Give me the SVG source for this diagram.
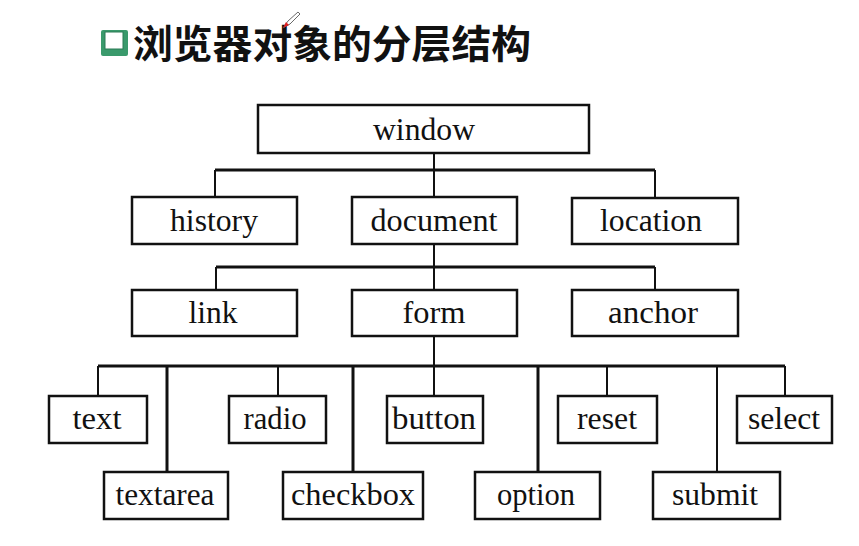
<svg xmlns="http://www.w3.org/2000/svg" width="859" height="546" viewBox="0 0 859 546">
<style>
.box{fill:#fff;stroke:#111;stroke-width:2.5}
.lbl{font-family:"Liberation Serif","Times New Roman",serif;font-size:32px;fill:#111;text-anchor:middle}
.ln{stroke:#111;stroke-width:2;fill:none}
.hl{stroke:#111;stroke-width:3;fill:none}
.title{font-family:"Noto Sans CJK SC","Noto Sans",sans-serif;font-size:39px;font-weight:bold;fill:#111}
</style>
<rect width="859" height="546" fill="#fff"/>
<g id="title">
<rect x="101" y="30" width="27" height="26" rx="2" fill="#3a9a6c"/>
<rect x="105" y="32" width="18" height="17" fill="#fff" stroke="#2a7a54" stroke-width="1"/>
<text class="title" x="133" y="58" textLength="398" lengthAdjust="spacingAndGlyphs">浏览器对象的分层结构</text>
<polygon points="283,28 288,21 298,12 300,14 290,24" fill="#fff" stroke="#444" stroke-width="0.8"/>
<polygon points="283,28 286,22 289,25" fill="#e02020"/>
</g>
<g id="connectors">
<path class="ln" d="M434,153 V198"/>
<path class="hl" d="M215,170 H655"/>
<path class="ln" d="M215,170 V197 M655,170 V198"/>
<path class="ln" d="M434,244 V290"/>
<path class="hl" d="M216,267 H655"/>
<path class="ln" d="M216,267 V290 M655,267 V290"/>
<path class="ln" d="M434,336 V396"/>
<path class="hl" d="M98,366 H785"/>
<path class="ln" d="M98,366 V396 M278,366 V396 M607,366 V396 M785,366 V396"/>
<path class="hl" d="M167,366 V472 M353,366 V472 M538,366 V472"/>
<path class="ln" d="M717,366 V472"/>
</g>
<g id="window"><rect class="box" x="258" y="105" width="331" height="48"/><text class="lbl" x="424" y="140" textLength="102" lengthAdjust="spacingAndGlyphs">window</text></g>
<g id="history"><rect class="box" x="132" y="197" width="165" height="47"/><text class="lbl" x="214" y="231" textLength="88" lengthAdjust="spacingAndGlyphs">history</text></g>
<g id="document"><rect class="box" x="352" y="197" width="165" height="47"/><text class="lbl" x="434" y="231" textLength="127" lengthAdjust="spacingAndGlyphs">document</text></g>
<g id="location"><rect class="box" x="572" y="198" width="166" height="46"/><text class="lbl" x="651" y="231" textLength="102" lengthAdjust="spacingAndGlyphs">location</text></g>
<g id="link"><rect class="box" x="132" y="290" width="165" height="46"/><text class="lbl" x="213" y="323" textLength="49" lengthAdjust="spacingAndGlyphs">link</text></g>
<g id="form"><rect class="box" x="352" y="290" width="165" height="46"/><text class="lbl" x="434" y="323" textLength="63" lengthAdjust="spacingAndGlyphs">form</text></g>
<g id="anchor"><rect class="box" x="572" y="290" width="166" height="46"/><text class="lbl" x="653" y="323" textLength="90" lengthAdjust="spacingAndGlyphs">anchor</text></g>
<g id="text"><rect class="box" x="49" y="396" width="98" height="47"/><text class="lbl" x="97" y="429" textLength="49" lengthAdjust="spacingAndGlyphs">text</text></g>
<g id="radio"><rect class="box" x="229" y="396" width="97" height="47"/><text class="lbl" x="275" y="429" textLength="63" lengthAdjust="spacingAndGlyphs">radio</text></g>
<g id="button"><rect class="box" x="387" y="396" width="96" height="47"/><text class="lbl" x="434" y="429" textLength="84" lengthAdjust="spacingAndGlyphs">button</text></g>
<g id="reset"><rect class="box" x="558" y="396" width="99" height="47"/><text class="lbl" x="607" y="429" textLength="60" lengthAdjust="spacingAndGlyphs">reset</text></g>
<g id="select"><rect class="box" x="737" y="396" width="95" height="47"/><text class="lbl" x="784" y="429" textLength="72" lengthAdjust="spacingAndGlyphs">select</text></g>
<g id="textarea"><rect class="box" x="104" y="472" width="124" height="47"/><text class="lbl" x="165" y="505" textLength="99" lengthAdjust="spacingAndGlyphs">textarea</text></g>
<g id="checkbox"><rect class="box" x="283" y="472" width="140" height="47"/><text class="lbl" x="353" y="505" textLength="124" lengthAdjust="spacingAndGlyphs">checkbox</text></g>
<g id="option"><rect class="box" x="475" y="472" width="125" height="47"/><text class="lbl" x="536" y="505" textLength="78" lengthAdjust="spacingAndGlyphs">option</text></g>
<g id="submit"><rect class="box" x="653" y="472" width="127" height="47"/><text class="lbl" x="715" y="505" textLength="86" lengthAdjust="spacingAndGlyphs">submit</text></g>
</svg>
